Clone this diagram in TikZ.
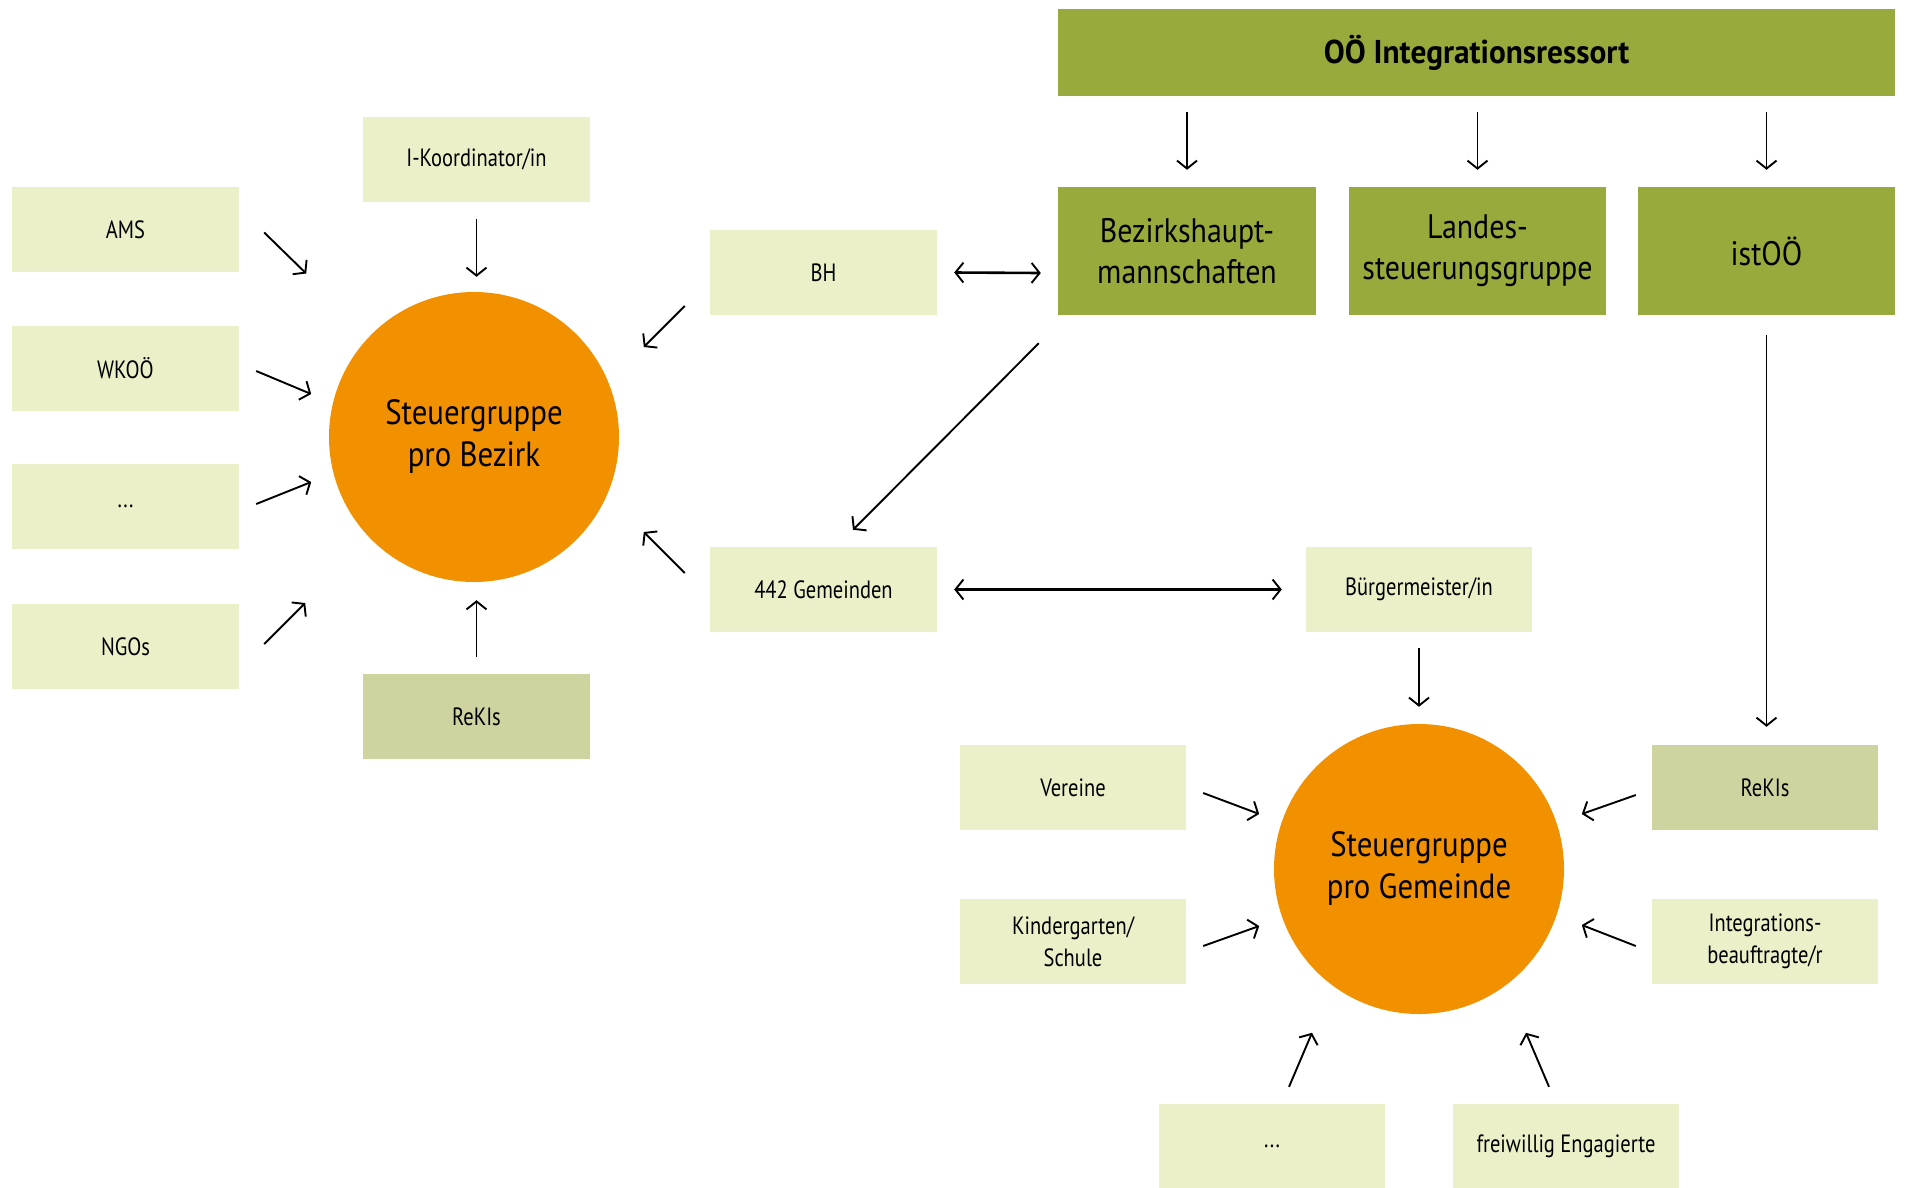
\documentclass[tikz,border=0pt]{standalone}
\usepackage{fontspec}
\setmainfont{PT Sans}[FakeStretch=0.82]
\newfontfamily\midf{PT Sans}[FakeStretch=0.88]
\newfontfamily\bigf{PT Sans}[FakeStretch=0.95]
\usetikzlibrary{arrows.meta,calc}
\definecolor{lightg}{HTML}{EBF0C8}
\definecolor{darkl}{HTML}{CFD39F}
\definecolor{olive}{HTML}{99AA3D}
\definecolor{orng}{HTML}{F29100}
\begin{document}
\begin{tikzpicture}[x=1pt,y=-1pt,
  lbox/.style={fill=lightg, minimum width=227pt, minimum height=85pt, inner sep=0pt, align=center, font=\fontsize{25}{32}\selectfont},
  dbox/.style={lbox, fill=darkl},
  gbox/.style={fill=olive, minimum width=257pt, minimum height=128pt, inner sep=0pt, align=center, font=\midf\fontsize{34}{41}\selectfont},
  circ/.style={circle, fill=orng, minimum size=290pt, inner sep=0pt, align=center, font=\midf\fontsize{35}{42}\selectfont},
  arr/.style={line width=1.9pt, -{Straight Barb[length=8pt,width=20pt,line width=1.9pt]}},
  darr/.style={line width=2.6pt, {Straight Barb[length=8pt,width=20pt,line width=1.9pt]}-{Straight Barb[length=8pt,width=20pt,line width=1.9pt]}}
]
\useasboundingbox (0,0) rectangle (1905,1187);
% left part
\node[lbox] (ams) at (125.5,229.5) {AMS};
\node[lbox] (wko) at (125.5,368.5) {WKOÖ};
\node[lbox] (dotsa) at (125.5,506.5) {...};
\node[lbox] (ngo) at (125.5,646.5) {NGOs};
\node[lbox] (ikoord) at (476.5,159.5) {I-Koordinator/in};
\node[dbox] (rekisa) at (476.5,716.5) {ReKIs};
\node[circ] (bez) at (474,437) {Steuergruppe\\pro Bezirk};
\node[lbox] (bh) at (823.5,272.5) {BH};
\node[lbox] (gem) at (823.5,589.5) {442 Gemeinden};
% top right
\node[fill=olive, minimum width=837pt, minimum height=87pt, inner sep=0pt, font=\bigf\fontsize{33}{40}\selectfont\bfseries] (integr) at (1476.5,52.5) {OÖ Integrationsressort};
\node[gbox, minimum width=258pt] (bhm) at (1187,251) {Bezirkshaupt-\\mannschaften};
\node[gbox] (lsg) at (1477.5,251) {Landes-\\steuerungsgruppe};
\node[gbox] (ist) at (1766.5,251) {istOÖ};
% bottom right
\node[lbox, minimum width=226pt] (buerg) at (1419,589.5) {Bürgermeister/in};
\node[circ] (gde) at (1419,869) {Steuergruppe\\pro Gemeinde};
\node[lbox, minimum width=226pt] (vereine) at (1073,787.5) {Vereine};
\node[lbox, minimum width=226pt] (kinder) at (1073,941.5) {Kindergarten/\\Schule};
\node[dbox, minimum width=226pt] (rekisb) at (1765,787.5) {ReKIs};
\node[lbox, minimum width=226pt] (integrb) at (1765,941.5) {Integrations-\\beauftragte/r};
\node[lbox, minimum width=226pt] (dotsb) at (1272,1146.5) {...};
\node[lbox, minimum width=226pt] (frei) at (1566,1146.5) {freiwillig Engagierte};
% arrows left
\draw[arr] ($(ams.east)+(25,3)$) -- ++(42,41);
\draw[arr] ($(wko.east)+(17,2.5)$) -- ++(55,23);
\draw[arr] ($(dotsa.east)+(17,-2.5)$) -- ++(55,-22);
\draw[arr] ($(ngo.east)+(25,-2.5)$) -- ++(41,-41);
\draw[arr] ($(ikoord.south)+(0,17)$) -- ($(ikoord.south |- bez.north)+(0,-15)$);
\draw[arr] ($(rekisa.north)+(0,-17)$) -- ($(rekisa.north |- bez.south)+(0,18)$);
\draw[arr] ($(bh.west)+(-25,33.5)$) -- ++(-41,41);
\draw[arr] ($(gem.west)+(-25,-16.5)$) -- ++(-41,-41);
\draw[darr] ($(bh.east)+(17,0)$) -- ($(bhm.west)+(-17,22)$);
% arrows top right
\draw[arr] ($(bhm.north)+(0,-75)$) -- ($(bhm.north)+(0,-17)$);
\draw[arr] ($(lsg.north)+(0,-75)$) -- ($(lsg.north)+(0,-17)$);
\draw[arr] ($(ist.north)+(0,-75)$) -- ($(ist.north)+(0,-17)$);
\draw[arr] ($(bhm.south west)+(-19,28)$) -- ($(gem.north)+(29.5,-17)$);
\draw[arr] ($(ist.south)+(0,20)$) -- ($(ist.south |- rekisb.north)+(0,-18)$);
\draw[darr] ($(gem.east)+(17,0)$) -- ($(buerg.west)+(-24,0)$);
\draw[arr] ($(buerg.south)+(0,16)$) -- ($(gde.north)+(0,-17)$);
% arrows bottom right
\draw[arr] ($(vereine.east)+(17,5.5)$) -- ++(56,21);
\draw[arr] ($(kinder.east)+(17,4.5)$) -- ++(56,-20);
\draw[arr] ($(rekisb.west)+(-16,7.5)$) -- ++(-54,19);
\draw[arr] ($(integrb.west)+(-16,4.5)$) -- ++(-54,-21);
\draw[arr] ($(dotsb.north)+(17,-17)$) -- ++(23,-54);
\draw[arr] ($(frei.north)+(-17,-17)$) -- ++(-23,-54);
\end{tikzpicture}
\end{document}
